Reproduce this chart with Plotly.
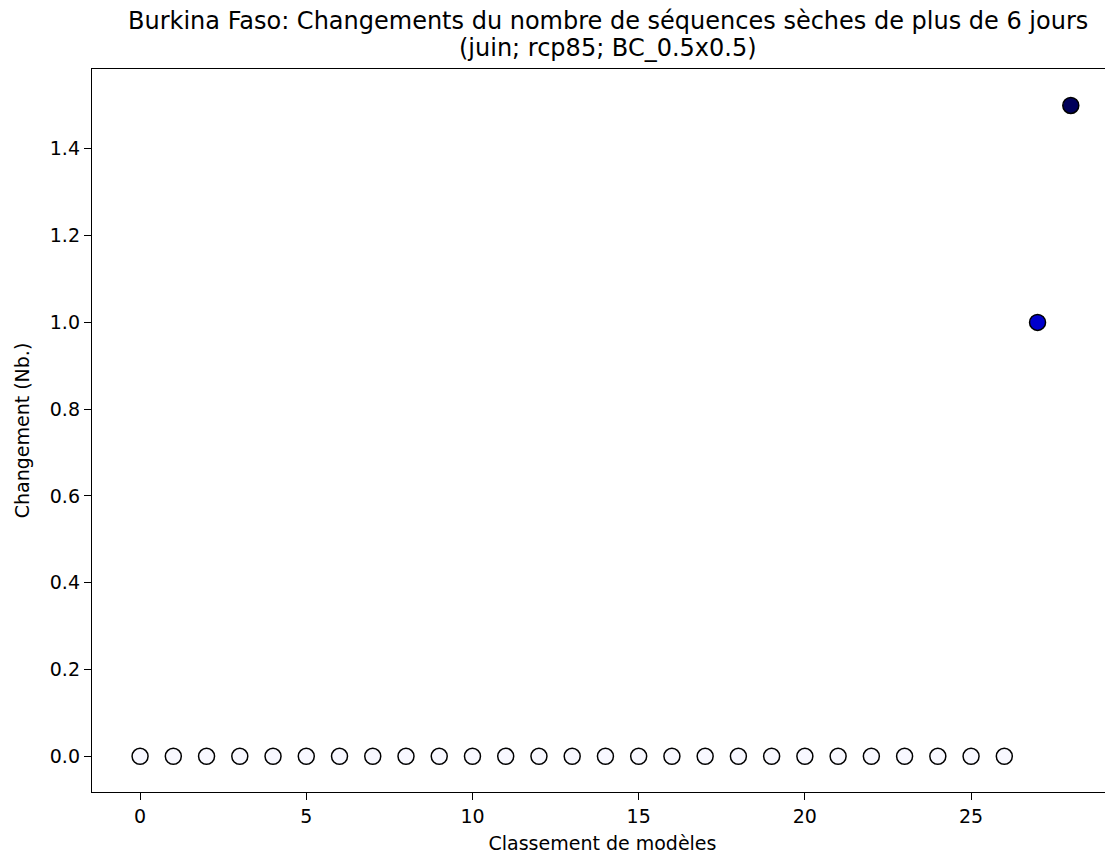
import plotly.graph_objects as go

# Data
ranks = list(range(29))
changes = [0.0] * 27 + [1.0, 1.5]
fill_colors = ["#f8f8ff"] * 27 + ["#0000cd", "#00005a"]

title_line1 = "Burkina Faso: Changements du nombre de séquences sèches de plus de 6 jours"
title_line2 = "(juin; rcp85; BC_0.5x0.5)"
x_title = "Classement de modèles"
y_title = "Changement (Nb.)"
x_ticks = [0, 5, 10, 15, 20, 25]
y_ticks = [0.0, 0.2, 0.4, 0.6, 0.8, 1.0, 1.2, 1.4]

FONT = "DejaVu Sans"
# page body has an 8px margin; figure sized so it fits the 1113x859 window
W, H = 1105, 851

fig = go.Figure()
fig.add_trace(go.Scatter(
    x=ranks, y=changes, mode="markers",
    marker=dict(size=16, color=fill_colors, line=dict(color="black", width=1.5)),
    showlegend=False, cliponaxis=False,
))

fig.update_layout(
    width=W, height=H,
    margin=dict(l=84, r=0, t=61, b=67),
    paper_bgcolor="white", plot_bgcolor="white",
    font=dict(family=FONT, size=19, color="black"),
    annotations=[
        dict(text=title_line1, xref="paper", yref="paper", x=0.5054, y=1.0660,
             xanchor="center", yanchor="middle", showarrow=False, borderpad=0,
             font=dict(family=FONT, size=24, color="black")),
        dict(text=title_line2, xref="paper", yref="paper", x=0.5054, y=1.0295,
             xanchor="center", yanchor="middle", showarrow=False, borderpad=0,
             font=dict(family=FONT, size=24, color="black")),
    ],
)
fig.update_xaxes(
    range=[-1.446, 29.27], tickvals=x_ticks, ticktext=[str(v) for v in x_ticks],
    showgrid=False, zeroline=False, showline=True, linecolor="black", linewidth=1.4,
    mirror=True, ticks="outside", ticklen=7, tickwidth=1.3, tickcolor="black",
    tickfont=dict(size=19),
    title=dict(text=x_title, standoff=10, font=dict(size=19)),
)
fig.update_yaxes(
    range=[-0.0823, 1.584], tickvals=y_ticks, ticktext=[f"{v:.1f}" for v in y_ticks],
    showgrid=False, zeroline=False, showline=True, linecolor="black", linewidth=1.4,
    mirror=False, ticks="outside", ticklen=7, tickwidth=1.3, tickcolor="black",
    tickfont=dict(size=19),
    title=dict(text=y_title, standoff=15, font=dict(size=19)),
)

fig.write_html("out.html")
